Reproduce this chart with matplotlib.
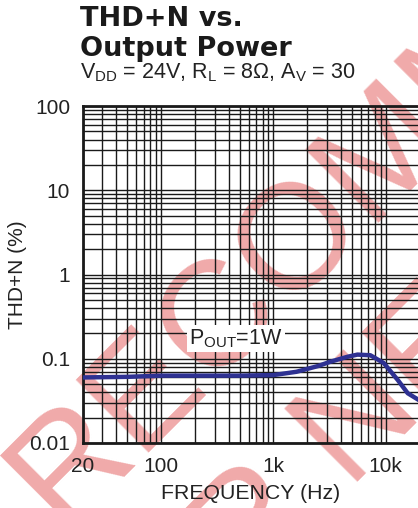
import matplotlib
matplotlib.use("Agg")
import matplotlib.pyplot as plt
import numpy as np

# data (Pout = 1W)
freq = [20, 50, 100, 200, 500, 1000, 1600, 2500, 3200, 4500, 5600, 7300, 9600, 12800, 15700, 20000]
thdn = [0.060, 0.061, 0.063, 0.063, 0.063, 0.064, 0.070, 0.082, 0.092, 0.105, 0.112, 0.110, 0.089, 0.056, 0.039, 0.032]

xticks = [20, 100, 1000, 10000]
xticklabels = ["20", "100", "1k", "10k"]
yticks = [0.01, 0.1, 1, 10, 100]
yticklabels = ["0.01", "0.1", "1", "10", "100"]

plt.rcParams['font.family'] = ['Liberation Sans', 'DejaVu Sans']
plt.rcParams['mathtext.fontset'] = 'custom'
plt.rcParams['mathtext.rm'] = 'Liberation Sans'

W, H = 418, 508
fig = plt.figure(figsize=(W / 100, H / 100), dpi=100)

# watermark behind everything
wm = dict(color='#F0AAAA', fontsize=108, rotation=45, rotation_mode='anchor',
          ha='left', va='baseline', zorder=-5)
fig.text(61 / W, 1 - 528 / H, "RECOMMENDED", **wm)
fig.text(96 / W, 1 - 743 / H, "FOR NEW DESIGNS", **wm)

left, right, top, bottom = 82.7, 419.5, 106, 443
ax = fig.add_axes([left / W, 1 - bottom / H, (right - left) / W, (bottom - top) / H])
ax.set_facecolor('none')

ax.plot(freq, thdn, color='#2E3192', lw=3.2, solid_capstyle='round', zorder=4)

ax.set_xscale('log')
ax.set_yscale('log')
ax.set_xlim(20, 20000)
ax.set_ylim(0.01, 100)
ax.set_xticks(xticks)
ax.set_xticklabels(xticklabels)
ax.set_yticks(yticks)
ax.set_yticklabels(yticklabels)
ax.minorticks_on()
ax.tick_params(which='both', length=0, labelsize=15, colors='#222222')
ax.tick_params(axis='y', pad=9)
ax.tick_params(axis='x', pad=10)
ax.yaxis.set_minor_formatter(matplotlib.ticker.NullFormatter())
ax.xaxis.set_minor_formatter(matplotlib.ticker.NullFormatter())
ax.grid(which='both', color='#1a1a1a', lw=1.0)
for s in ax.spines.values():
    s.set_linewidth(2)
    s.set_color('#1a1a1a')

ax.set_xlabel("FREQUENCY (Hz)", fontsize=15.3, color='#222222', labelpad=6)
ax.set_ylabel("THD+N (%)", fontsize=15, color='#222222', labelpad=2)

ax.text(178, 0.149, r"P$_{\rm OUT}$=1W", fontsize=15.5, color='#222222', zorder=3,
        bbox=dict(facecolor='white', edgecolor='none', pad=1.5))

# heading
title_font = dict(family='DejaVu Sans', fontsize=19.5, fontweight='bold', color='#1a1a1a', va='baseline')
fig.text(80 / W, 1 - 26 / H, "THD+N vs.", **title_font)
fig.text(80 / W, 1 - 55.5 / H, "Output Power", **title_font)
fig.text(80 / W, 1 - 78 / H, r"V$_{\rm DD}$ = 24V, R$_{\rm L}$ = 8$\Omega$, A$_{\rm V}$ = 30",
         fontsize=15.5, color='#222222', va='baseline')

fig.savefig("out.png", dpi=100)
